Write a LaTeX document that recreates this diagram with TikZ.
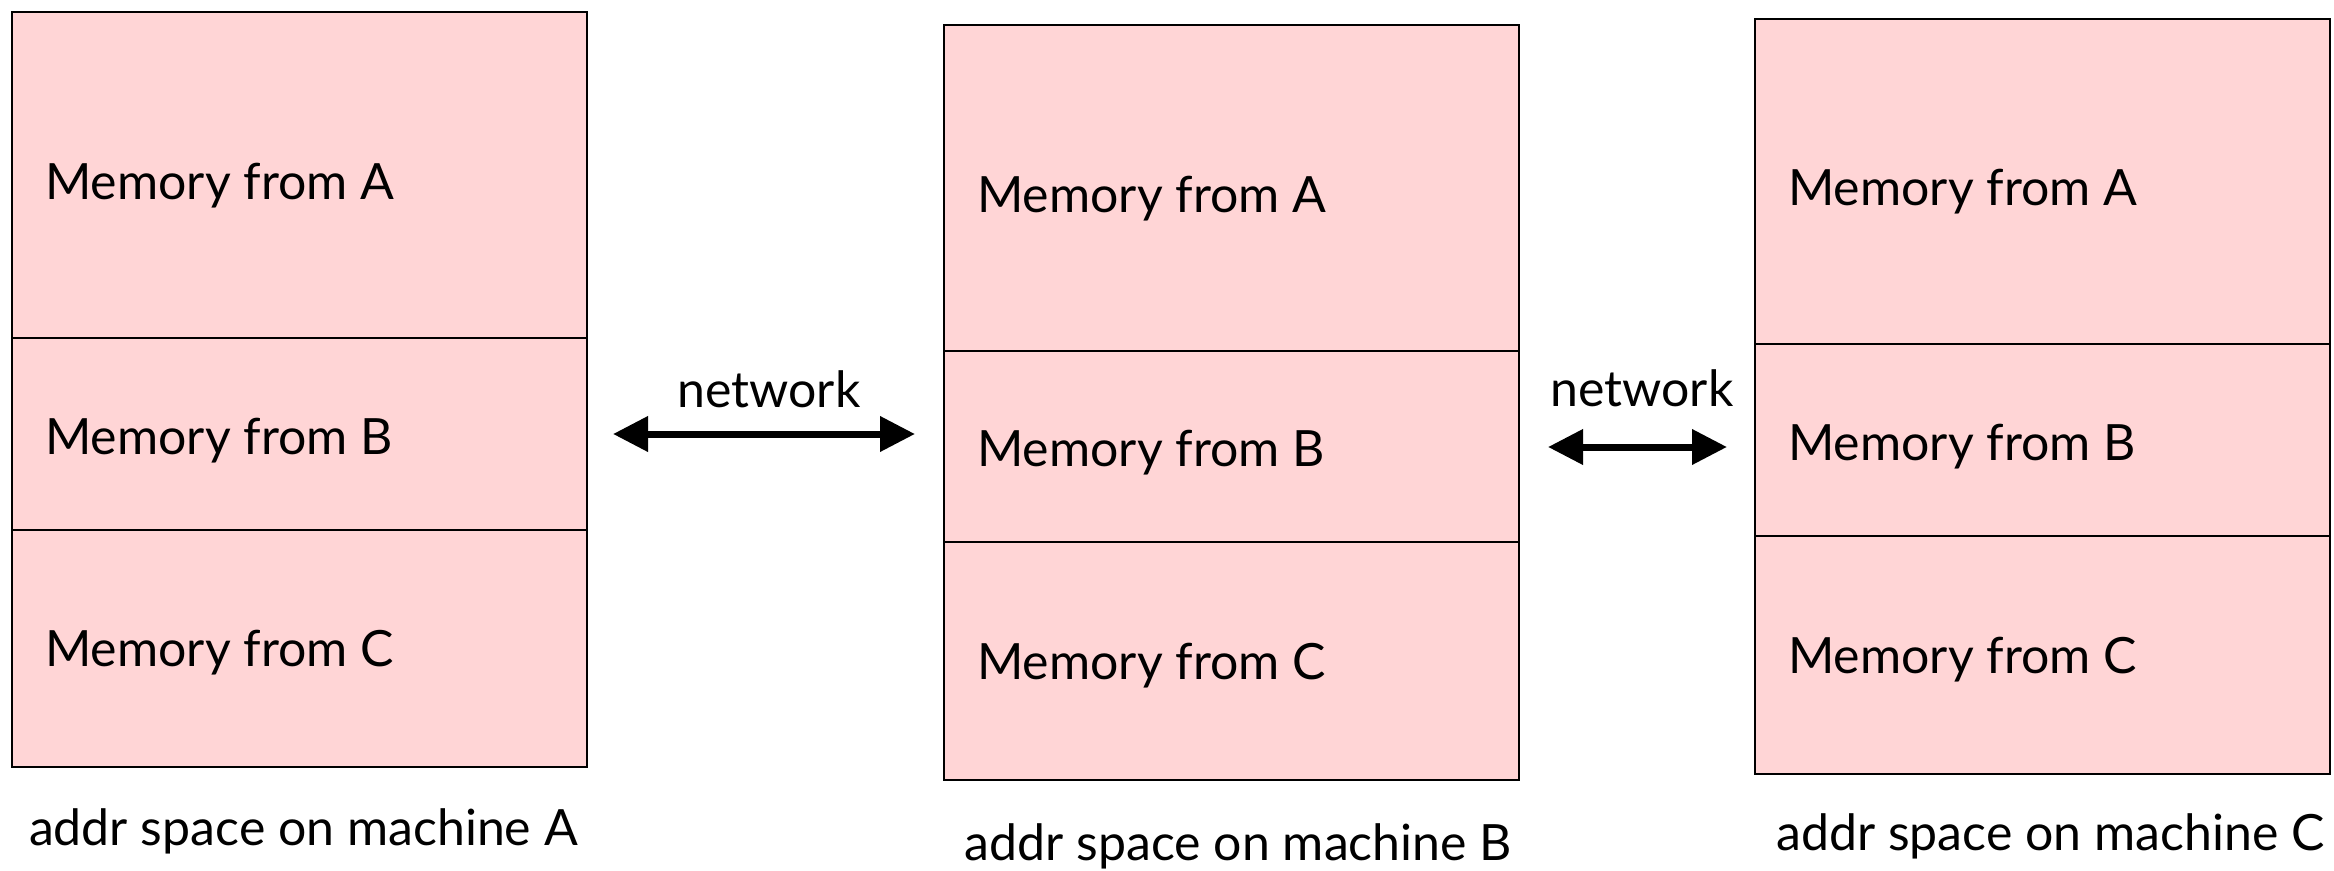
\documentclass[tikz,border=0pt]{standalone}
\usepackage{fontspec}
\setmainfont{Lato}
\usetikzlibrary{arrows.meta}
\definecolor{mempink}{RGB}{255,213,214}
\begin{document}
\begin{tikzpicture}[x=1pt,y=-1pt,
  sec/.style={draw=black, line width=2.5pt, fill=mempink, rectangle, minimum width=575pt, inner sep=0pt, outer sep=0pt, anchor=north west},
  lbl/.style={anchor=base west, inner sep=0pt, font=\fontsize{50}{60}\selectfont},
  caplbl/.style={anchor=base, inner sep=0pt, font=\fontsize{50}{60}\selectfont},
  net/.style={line width=7pt, {Triangle[length=35pt,width=34pt]}-{Triangle[length=35pt,width=34pt]}}]
\useasboundingbox (0,0) rectangle (2334,870);

% machine A
\node[sec, minimum height=326pt] (A1) at (12,12) {};
\node[sec, minimum height=192pt] (A2) at (12,338) {};
\node[sec, minimum height=237pt] (A3) at (12,530) {};
\node[lbl] (tA1) at ([xshift=33pt,yshift=-24pt]A1.west) {Memory from A};
\node[lbl] (tA2) at ([xshift=33pt,yshift=-20pt]A2.west) {Memory from B};
\node[lbl] (tA3) at ([xshift=33pt,yshift=-18pt]A3.west) {Memory from C};
\node[caplbl] (cA) at ([xshift=4pt,yshift=-78pt]A3.south) {addr space on machine A};

% machine B
\node[sec, minimum height=326pt] (B1) at (944,25) {};
\node[sec, minimum height=191pt] (B2) at (944,351) {};
\node[sec, minimum height=238pt] (B3) at (944,542) {};
\node[lbl] (tB1) at ([xshift=33pt,yshift=-24pt]B1.west) {Memory from A};
\node[lbl] (tB2) at ([xshift=33pt,yshift=-20pt]B2.west) {Memory from B};
\node[lbl] (tB3) at ([xshift=33pt,yshift=-18pt]B3.west) {Memory from C};
\node[caplbl] (cB) at ([xshift=7pt,yshift=-80pt]B3.south) {addr space on machine B};

% machine C
\node[sec, minimum height=325pt] (C1) at (1755,19) {};
\node[sec, minimum height=192pt] (C2) at (1755,344) {};
\node[sec, minimum height=238pt] (C3) at (1755,536) {};
\node[lbl] (tC1) at ([xshift=33pt,yshift=-24pt]C1.west) {Memory from A};
\node[lbl] (tC2) at ([xshift=33pt,yshift=-20pt]C2.west) {Memory from B};
\node[lbl] (tC3) at ([xshift=33pt,yshift=-18pt]C3.west) {Memory from C};
\node[caplbl] (cC) at ([xshift=8pt,yshift=-76pt]C3.south) {addr space on machine C};

% network arrows
\coordinate (n1l) at (613,434);
\coordinate (n1r) at (915,434);
\coordinate (n2l) at (1548,447);
\coordinate (n2r) at (1727,447);
\draw[net] (n1l) -- (n1r);
\draw[net] (n2l) -- (n2r);
\node[caplbl] (net1) at (769,407) {network};
\node[caplbl] (net2) at (1642,406) {network};
\end{tikzpicture}
\end{document}
